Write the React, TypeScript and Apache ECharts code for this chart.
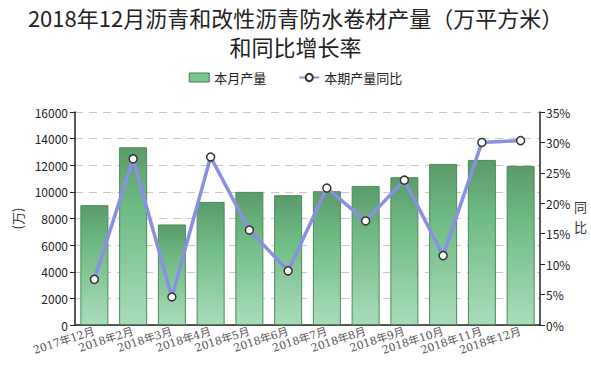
import React, { useEffect, useRef } from "react";
import * as echarts from "echarts";

const categories = [
  "2017年12月", "2018年2月", "2018年3月", "2018年4月", "2018年5月", "2018年6月",
  "2018年7月", "2018年8月", "2018年9月", "2018年10月", "2018年11月", "2018年12月",
];
const output = [9000, 13350, 7550, 9250, 10000, 9750, 10050, 10450, 11100, 12100, 12400, 11950];
const yoy = [7.5, 27.3, 4.6, 27.6, 15.6, 8.9, 22.5, 17.1, 23.8, 11.4, 30.0, 30.3];
const leftTicks = { min: 0, max: 16000, interval: 2000 };
const rightTicks = { min: 0, max: 35, interval: 5 };
const titleLines = ["2018年12月沥青和改性沥青防水卷材产量（万平方米）", "和同比增长率"];
const rightNameChars = ["同", "比"];

export default function App() {
  const ref = useRef<HTMLDivElement>(null);
  useEffect(() => {
    document.body.style.margin = "0";
    const chart = echarts.init(ref.current!, null, { renderer: "svg" });
    const font = "'Noto Sans CJK SC', 'Noto Sans', sans-serif";
    chart.setOption({
      animation: false,
      backgroundColor: "#fff",
      textStyle: { fontFamily: font },
      title: titleLines.map((t, i) => ({
        text: t,
        left: "center",
        top: 5 + i * 29,
        padding: 0,
        textStyle: { fontSize: 22, fontWeight: "normal", color: "#222", lineHeight: 24, fontFamily: font },
      })),
      legend: {
        top: 66,
        left: "center",
        itemGap: 32,
        itemWidth: 20,
        itemHeight: 9,
        textStyle: { fontSize: 13, color: "#222" },
        data: [
          { name: "本月产量", icon: "rect", itemStyle: { color: "#7cc591", borderColor: "#3f7a4e", borderWidth: 1 } },
          { name: "本期产量同比" },
        ],
      },
      graphic: rightNameChars.map((c, i) => ({
        type: "text",
        left: 574,
        top: 200 + i * 20,
        style: { text: c, fontSize: 13, fill: "#333", fontFamily: font },
      })),
      grid: { left: 75, right: 51, top: 112, bottom: 42 },
      xAxis: {
        type: "category",
        data: categories,
        axisLine: { lineStyle: { color: "#222", width: 1.5 } },
        axisTick: { alignWithLabel: true, length: 5, lineStyle: { color: "#222" } },
        axisLabel: {
          rotate: 18,
          interval: 0,
          fontSize: 11,
          color: "#555",
          margin: 6,
          fontFamily: "'DejaVu Serif', 'Noto Sans CJK SC', serif",
        },
      },
      yAxis: [
        {
          type: "value",
          ...leftTicks,
          name: "(万)",
          nameLocation: "middle",
          nameGap: 50,
          nameRotate: 90,
          nameTextStyle: { fontSize: 13, color: "#333" },
          axisLine: { show: true, lineStyle: { color: "#222", width: 1.5 } },
          axisTick: { show: true, length: 5, lineStyle: { color: "#222" } },
          axisLabel: { fontSize: 12, color: "#222", margin: 7, formatter: (v: number) => String(v) },
          splitLine: { lineStyle: { color: "#c8c8c8", type: [8, 6] } },
        },
        {
          type: "value",
          ...rightTicks,
          axisLine: { show: true, lineStyle: { color: "#222", width: 1.5 } },
          axisTick: { show: true, length: 5, lineStyle: { color: "#222" } },
          axisLabel: { fontSize: 12, color: "#222", margin: 6, formatter: "{value}%" },
          splitLine: { show: false },
        },
      ],
      series: [
        {
          name: "本月产量",
          type: "bar",
          data: output,
          barWidth: 28,
          itemStyle: {
            borderColor: "#4c8a5c",
            borderWidth: 1,
            color: new echarts.graphic.LinearGradient(0, 0, 0, 1, [
              { offset: 0, color: "#5b9b6b" },
              { offset: 0.35, color: "#6fbb84" },
              { offset: 1, color: "#a9dcba" },
            ]),
          },
        },
        {
          name: "本期产量同比",
          type: "line",
          yAxisIndex: 1,
          data: yoy,
          symbol: "circle",
          symbolSize: 8,
          lineStyle: { color: "#8a8fe2", width: 3.5 },
          itemStyle: { color: "#ffffff", borderColor: "#333", borderWidth: 1.5 },
        },
      ],
    });
    return () => chart.dispose();
  }, []);
  return <div ref={ref} style={{ width: 591, height: 367 }} />;
}
